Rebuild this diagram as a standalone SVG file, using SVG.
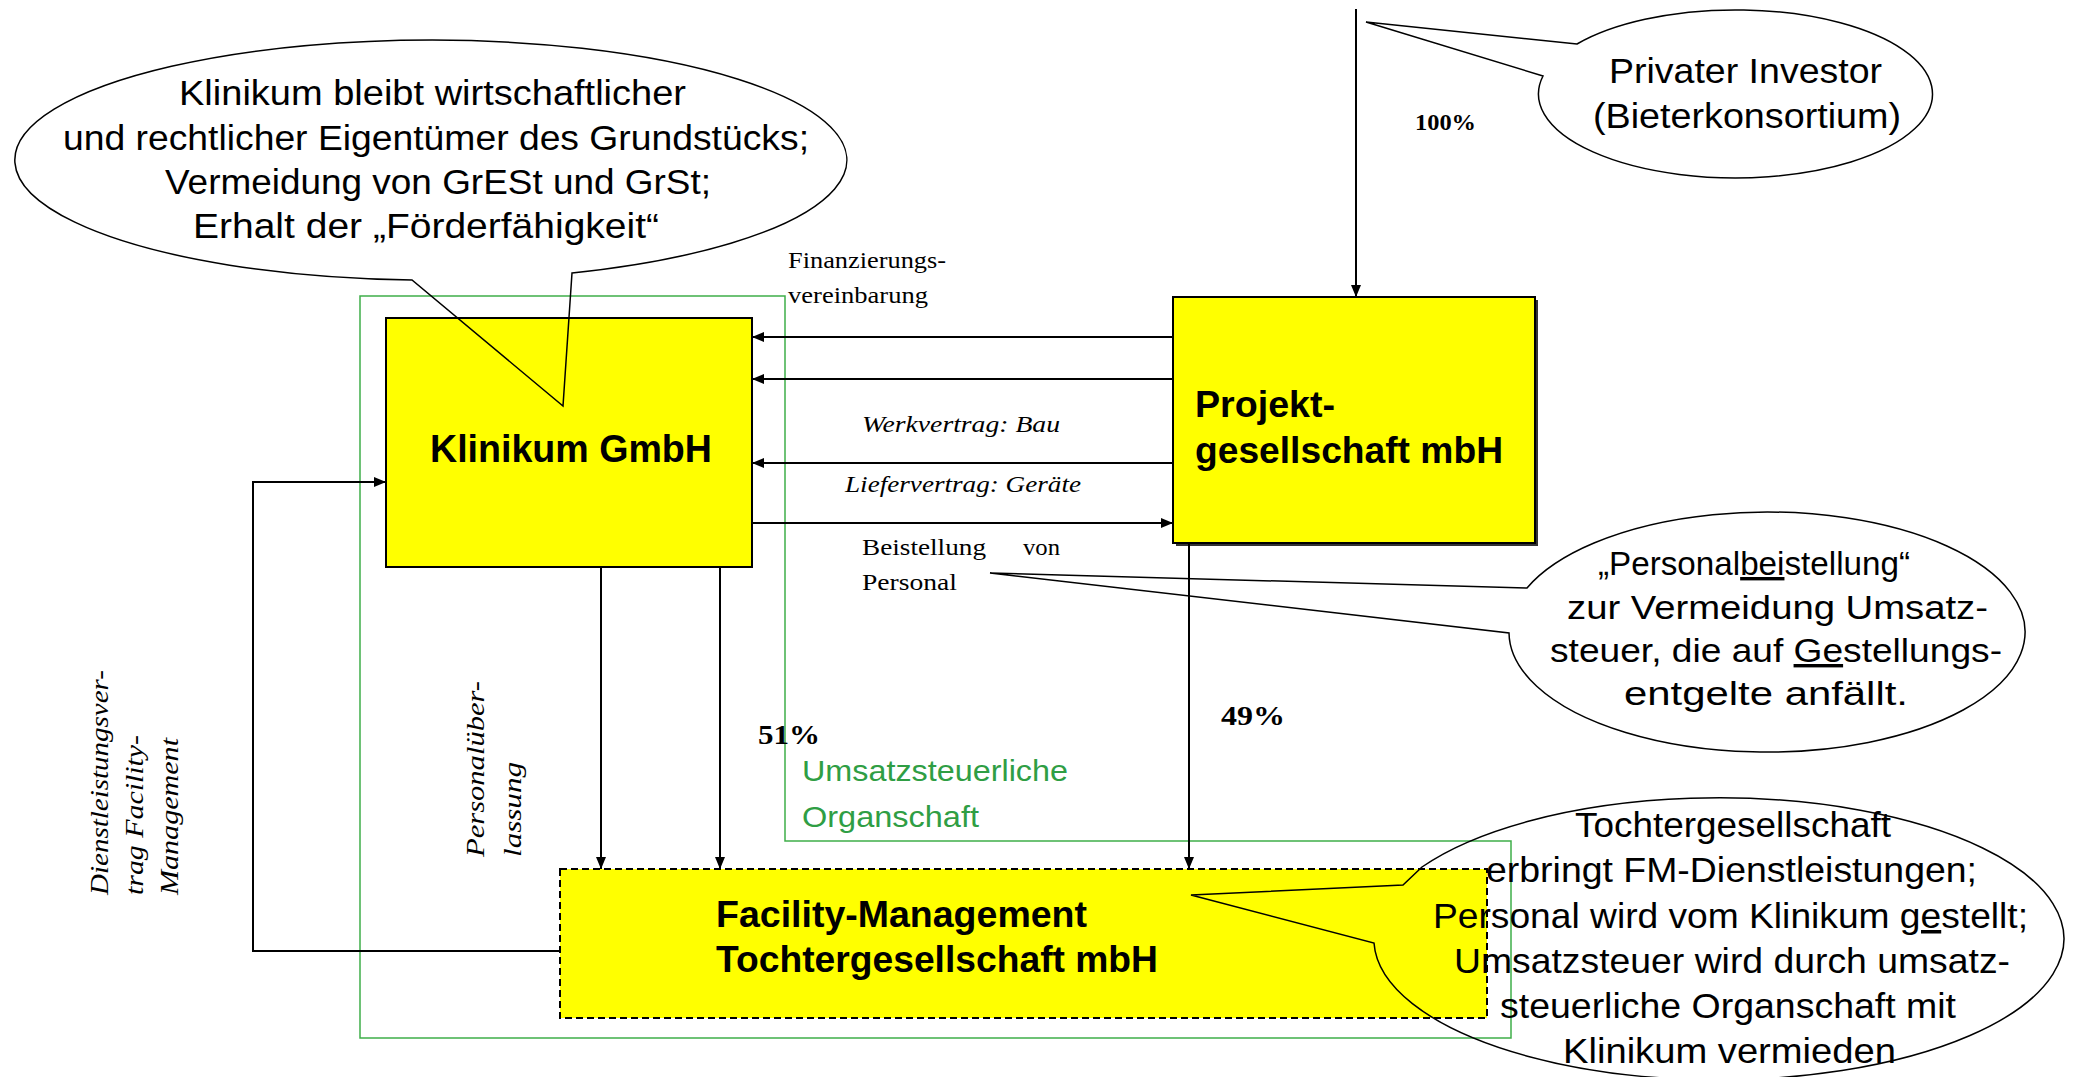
<svg xmlns="http://www.w3.org/2000/svg" width="2074" height="1077" viewBox="0 0 2074 1077">
<defs>
<marker id="ah" viewBox="0 0 12 10" refX="12" refY="5" markerWidth="12" markerHeight="10" markerUnits="userSpaceOnUse" orient="auto">
<path d="M0,0 L12,5 L0,10 Z" fill="#000"/>
</marker>
</defs>
<style>
.sans{font-family:"Liberation Sans",Arial,sans-serif;fill:#000;}
.bold{font-family:"Liberation Sans",Arial,sans-serif;font-weight:bold;fill:#000;}
.serif{font-family:"Liberation Serif","Times New Roman",serif;fill:#000;}
.ital{font-family:"Liberation Serif","Times New Roman",serif;font-style:italic;fill:#000;}
.pct{font-family:"Liberation Serif","Times New Roman",serif;font-weight:bold;fill:#000;}
.green{font-family:"Liberation Sans",Arial,sans-serif;fill:#2f9e44;}
.box{fill:#ffff00;stroke:#000;stroke-width:2;}
.callout{fill:none;stroke:#000;stroke-width:1.5;}
.conn{fill:none;stroke:#000;stroke-width:2;}
.u{text-decoration:underline;}
</style>
<rect x="0" y="0" width="2074" height="1077" fill="#fff"/>

<!-- Organschaft boundary -->
<g id="organschaft">
<path d="M360,296 H785 V841 H1511 V1038 H360 Z" fill="none" stroke="#3fae49" stroke-width="1.5"/>
<text class="green" font-size="30" x="802" y="781" textLength="266" lengthAdjust="spacingAndGlyphs">Umsatzsteuerliche</text>
<text class="green" font-size="30" x="802" y="827" textLength="177" lengthAdjust="spacingAndGlyphs">Organschaft</text>
</g>

<!-- Nodes -->
<g id="klinikum">
<rect class="box" x="386" y="318" width="366" height="249"/>
<text class="bold" font-size="38" x="430" y="462" textLength="282" lengthAdjust="spacingAndGlyphs">Klinikum GmbH</text>
</g>

<g id="projekt">
<rect x="1176" y="300" width="362" height="246" fill="#333"/>
<rect class="box" x="1173" y="297" width="362" height="246"/>
<text class="bold" font-size="37" x="1195" y="417" textLength="140" lengthAdjust="spacingAndGlyphs">Projekt-</text>
<text class="bold" font-size="37" x="1195" y="463" textLength="308" lengthAdjust="spacingAndGlyphs">gesellschaft mbH</text>
</g>

<g id="fm">
<rect x="560" y="869" width="927" height="149" fill="#ffff00" stroke="#000" stroke-width="2" stroke-dasharray="7,4"/>
<text class="bold" font-size="37" x="716" y="927" textLength="371" lengthAdjust="spacingAndGlyphs">Facility-Management</text>
<text class="bold" font-size="37" x="716" y="972" textLength="442" lengthAdjust="spacingAndGlyphs">Tochtergesellschaft mbH</text>
</g>

<!-- Connectors -->
<g id="connectors">
<path class="conn" d="M1356,9 V297" marker-end="url(#ah)"/>
<path class="conn" d="M1173,337 H752" marker-end="url(#ah)"/>
<path class="conn" d="M1173,379 H752" marker-end="url(#ah)"/>
<path class="conn" d="M1173,463 H752" marker-end="url(#ah)"/>
<path class="conn" d="M752,523 H1173" marker-end="url(#ah)"/>
<path class="conn" d="M601,567 V869" marker-end="url(#ah)"/>
<path class="conn" d="M720,567 V869" marker-end="url(#ah)"/>
<path class="conn" d="M1189,543 V869" marker-end="url(#ah)"/>
<path class="conn" d="M560,951 H253 V482 H386" marker-end="url(#ah)"/>
</g>

<!-- Connector labels -->
<g id="labels">
<text class="pct" font-size="24" x="1415" y="130" textLength="61" lengthAdjust="spacingAndGlyphs">100%</text>
<text class="serif" font-size="23" x="788" y="268" textLength="158" lengthAdjust="spacingAndGlyphs">Finanzierungs-</text>
<text class="serif" font-size="23" x="788" y="303" textLength="140" lengthAdjust="spacingAndGlyphs">vereinbarung</text>
<text class="ital" font-size="23" x="862" y="432" textLength="198" lengthAdjust="spacingAndGlyphs">Werkvertrag: Bau</text>
<text class="ital" font-size="23" x="845" y="492" textLength="236" lengthAdjust="spacingAndGlyphs">Liefervertrag: Geräte</text>
<text class="serif" font-size="23" y="555"><tspan x="862" textLength="124" lengthAdjust="spacingAndGlyphs">Beistellung</tspan><tspan x="1023" textLength="37" lengthAdjust="spacingAndGlyphs">von</tspan></text>
<text class="serif" font-size="23" x="862" y="590" textLength="95" lengthAdjust="spacingAndGlyphs">Personal</text>
<text class="pct" font-size="28" x="758" y="744" textLength="62" lengthAdjust="spacingAndGlyphs">51%</text>
<text class="pct" font-size="28" x="1221" y="725" textLength="64" lengthAdjust="spacingAndGlyphs">49%</text>
<text class="ital" font-size="25" transform="translate(108,895) rotate(-90)" textLength="225" lengthAdjust="spacingAndGlyphs">Dienstleistungsver-</text>
<text class="ital" font-size="25" transform="translate(143,895) rotate(-90)" textLength="160" lengthAdjust="spacingAndGlyphs">trag Facility-</text>
<text class="ital" font-size="25" transform="translate(178,895) rotate(-90)" textLength="157" lengthAdjust="spacingAndGlyphs">Management</text>
<text class="ital" font-size="25" transform="translate(484,857) rotate(-90)" textLength="176" lengthAdjust="spacingAndGlyphs">Personalüber-</text>
<text class="ital" font-size="25" transform="translate(521,857) rotate(-90)" textLength="95" lengthAdjust="spacingAndGlyphs">lassung</text>
</g>

<!-- Callouts -->
<g id="callout-eigentum">
<path class="callout" d="M572,273 L563,406 L412,280 A416,120 0 1 1 572,273 Z"/>
<text class="sans" font-size="35" x="179" y="105" textLength="507" lengthAdjust="spacingAndGlyphs">Klinikum bleibt wirtschaftlicher</text>
<text class="sans" font-size="35" x="63" y="150" textLength="746" lengthAdjust="spacingAndGlyphs">und rechtlicher Eigentümer des Grundstücks;</text>
<text class="sans" font-size="35" x="165" y="194" textLength="546" lengthAdjust="spacingAndGlyphs">Vermeidung von GrESt und GrSt;</text>
<text class="sans" font-size="35" x="193" y="238" textLength="466" lengthAdjust="spacingAndGlyphs">Erhalt der „Förderfähigkeit“</text>
</g>

<g id="callout-investor">
<path class="callout" d="M1577,44 L1366,22 L1543,76 A197,84 0 1 0 1577,44 Z"/>
<text class="sans" font-size="35" x="1609" y="83" textLength="273" lengthAdjust="spacingAndGlyphs">Privater Investor</text>
<text class="sans" font-size="35" x="1593" y="128" textLength="308" lengthAdjust="spacingAndGlyphs">(Bieterkonsortium)</text>
</g>

<g id="callout-beistellung">
<path class="callout" d="M1527,588 L990,573 L1509,633 A258,120 0 1 0 1527,588 Z"/>
<text class="sans" font-size="34" x="1598" y="575" textLength="312" lengthAdjust="spacingAndGlyphs">„Personal<tspan class="u">bei</tspan>stellung“</text>
<text class="sans" font-size="34" x="1567" y="619" textLength="421" lengthAdjust="spacingAndGlyphs">zur Vermeidung Umsatz-</text>
<text class="sans" font-size="34" x="1550" y="662" textLength="452" lengthAdjust="spacingAndGlyphs">steuer, die auf <tspan class="u">Ge</tspan>stellungs-</text>
<text class="sans" font-size="34" x="1624" y="705" textLength="284" lengthAdjust="spacingAndGlyphs">entgelte anfällt.</text>
</g>

<g id="callout-tochter">
<path class="callout" d="M1422,867 L1403,885 L1191,895 L1374,943 A345,141 0 1 0 1422,867 Z"/>
<text class="sans" font-size="35" x="1575" y="837" textLength="316" lengthAdjust="spacingAndGlyphs">Tochtergesellschaft</text>
<text class="sans" font-size="35" x="1486" y="882" textLength="491" lengthAdjust="spacingAndGlyphs">erbringt FM-Dienstleistungen;</text>
<text class="sans" font-size="35" x="1433" y="928" textLength="595" lengthAdjust="spacingAndGlyphs">Personal wird vom Klinikum <tspan class="u">ge</tspan>stellt;</text>
<text class="sans" font-size="35" x="1454" y="973" textLength="556" lengthAdjust="spacingAndGlyphs">Umsatzsteuer wird durch umsatz-</text>
<text class="sans" font-size="35" x="1500" y="1018" textLength="456" lengthAdjust="spacingAndGlyphs">steuerliche Organschaft mit</text>
<text class="sans" font-size="35" x="1563" y="1063" textLength="333" lengthAdjust="spacingAndGlyphs">Klinikum vermieden</text>
</g>
</svg>
